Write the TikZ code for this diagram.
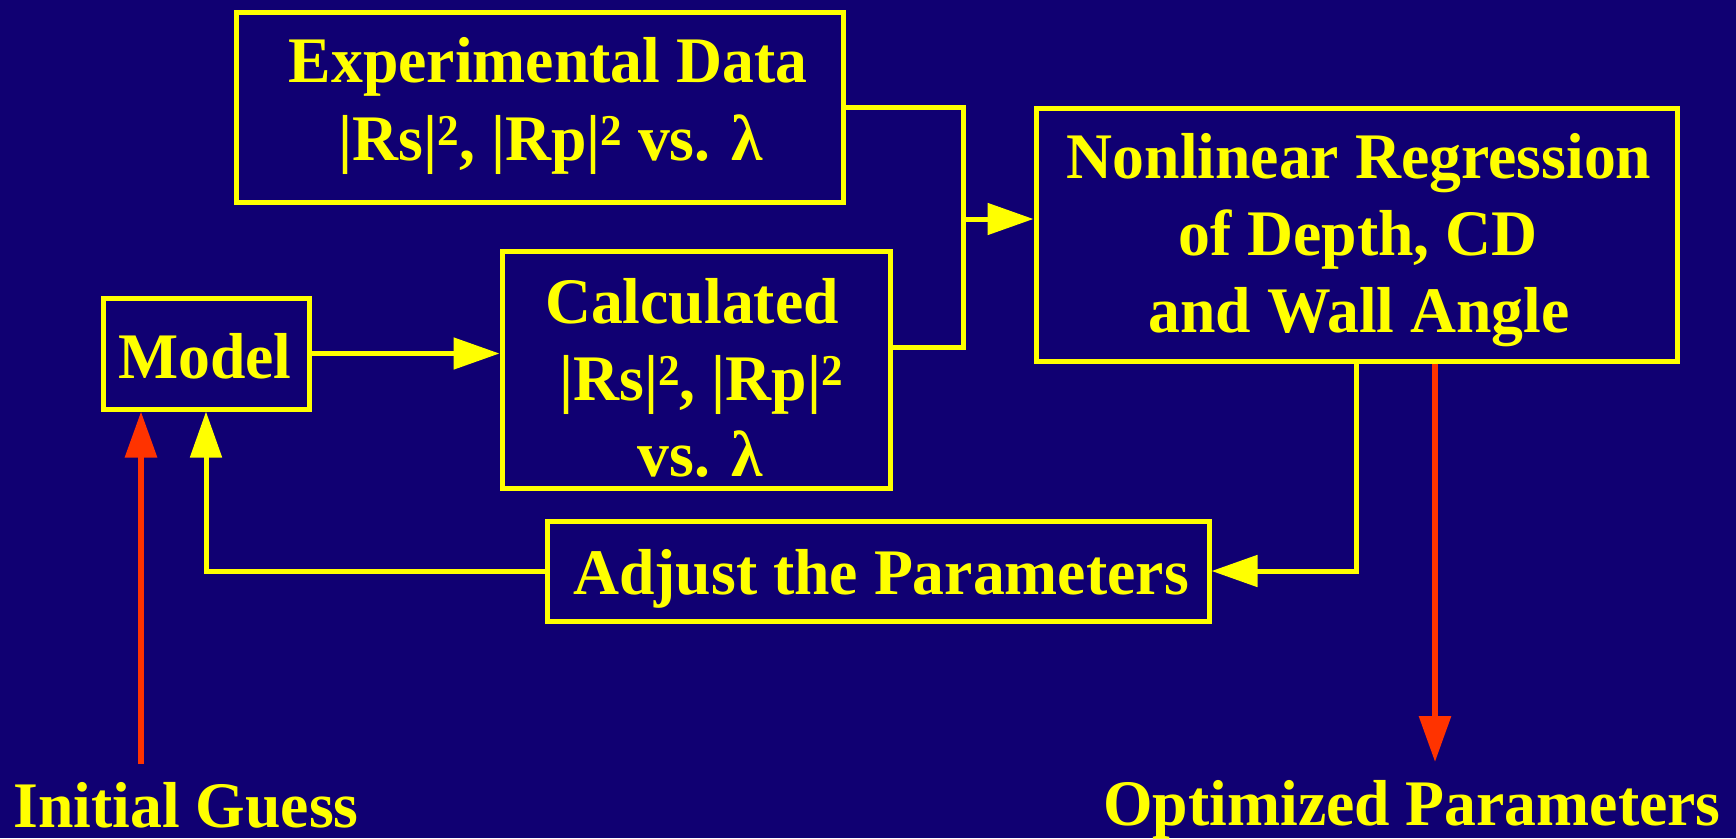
\documentclass[tikz,border=0pt]{standalone}
\usepackage{fontspec}
\setmainfont{Liberation Serif}[FakeStretch=0.98]
\usetikzlibrary{arrows.meta}
\definecolor{bg}{RGB}{16,0,114}
\definecolor{yel}{RGB}{255,255,0}
\definecolor{redc}{RGB}{255,51,0}
\newcommand\supTwo{\raisebox{15pt}{\fontsize{44}{44}\selectfont\bfseries 2}}
\newcommand\lam{λ}
\begin{document}
\begin{tikzpicture}[x=1pt,y=-1pt,
  box/.style={draw=yel, line width=5pt, inner sep=0pt},
  tx/.style={text=yel, inner sep=0pt, anchor=base, font=\fontsize{65}{78}\selectfont\bfseries},
  yl/.style={draw=yel, line width=5pt},
  rd/.style={draw=redc, line width=6pt},
  arr/.style={-{Triangle[length=46pt,width=31pt]}}]
\fill[bg] (0,0) rectangle (1736,838);
\useasboundingbox (0,0) rectangle (1736,838);

% boxes
\node[box, minimum width=607pt, minimum height=190pt] (exp) at (539.5,107) {};
\node[box, minimum width=641pt, minimum height=253pt] (nl) at (1356.5,234.5) {};
\node[box, minimum width=206pt, minimum height=111pt] (model) at (206,353.5) {};
\node[box, minimum width=388pt, minimum height=237pt] (calc) at (696,369.5) {};
\node[box, minimum width=662pt, minimum height=100pt] (adj) at (878,571) {};

% texts
\node[tx] (exp1) at (548,82) {Experimental Data};
\node[tx] (exp2) at (551,160) {|Rs|\supTwo, |Rp|\supTwo\ vs. \lam};
\node[tx] (nl1) at (1359,178) {Nonlinear Regression};
\node[tx] (nl2) at (1358,255) {of Depth, CD};
\node[tx] (nl3) at (1359,332) {and Wall Angle};
\node[tx] (model1) at (205,378) {Model};
\node[tx] (calc1) at (692,323) {Calculated};
\node[tx] (calc2) at (701,400) {|Rs|\supTwo, |Rp|\supTwo};
\node[tx] (calc3) at (700,476) {vs. \lam};
\node[tx] (adj1) at (881,594) {Adjust the Parameters};
\node[tx] (ig) at (186,827) {Initial Guess};
\node[tx] (op) at (1412,825) {Optimized Parameters};

% connectors
\coordinate (ja) at (963,107);
\coordinate (jb) at (963,347);
\coordinate (jc) at (963,219);
\draw[yl] (exp.east) -- (ja) -- (jb) -- (jb -| calc.east);
\draw[yl,arr] (jc) -- (jc -| nl.west);
\draw[yl,arr] (model.east) -- (model.east -| calc.west);
\draw[yl,arr] (nl.south) |- (adj.east);
\draw[yl,arr] (adj.west) -| (model.south);

\coordinate (igs) at (141,764);
\draw[rd,arr] (igs) -- (igs |- model.south);
\coordinate (ops) at (1435,762);
\draw[rd,arr] (ops |- nl.south) -- (ops);
\end{tikzpicture}
\end{document}
